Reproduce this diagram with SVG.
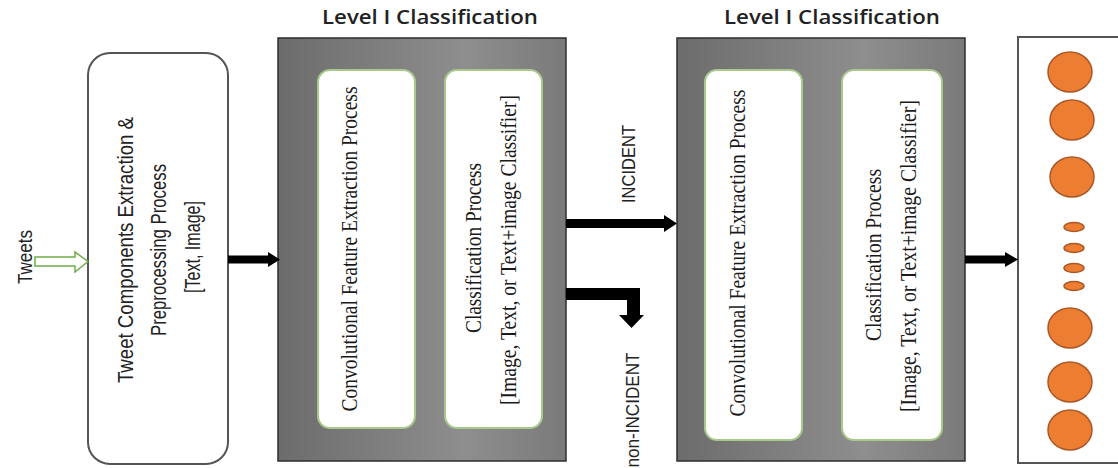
<svg xmlns="http://www.w3.org/2000/svg" width="1118" height="468" viewBox="0 0 1118 468">
<defs>
<linearGradient id="gray" x1="0" y1="0" x2="1" y2="0">
<stop offset="0" stop-color="#6c6c6c"/>
<stop offset="0.65" stop-color="#8e8e8e"/>
<stop offset="1" stop-color="#7a7a7a"/>
</linearGradient>
<style>
.outer{fill:url(#gray);stroke:#2e2e2e;stroke-width:1.5}
.inner{fill:#ffffff;stroke:#a7c98a;stroke-width:2}
.serif{font-family:"Liberation Serif","Times New Roman",serif;font-size:23px;fill:#1a1a1a;text-anchor:middle;dominant-baseline:central}
.sans{font-family:"Liberation Sans",Arial,sans-serif;fill:#222;text-anchor:middle;dominant-baseline:central}
.title{font-family:"Open Sans","Liberation Sans",sans-serif;font-size:19px;font-weight:600;fill:#222;text-anchor:middle}
.dot{fill:#ED7D31;stroke:#a9582a;stroke-width:1.5}
.conn{fill:#000}
</style>
</defs>
<rect width="1118" height="468" fill="#ffffff"/>

<g id="tweets">
<text class="sans" font-size="21" textLength="54" lengthAdjust="spacingAndGlyphs" transform="translate(24,257) rotate(-90)">Tweets</text>
</g>

<g id="preprocess">
<rect x="88" y="53" width="140" height="411" rx="22" fill="#ffffff" stroke="#555" stroke-width="2"/>
<text class="sans" font-size="22" textLength="266" lengthAdjust="spacingAndGlyphs" transform="translate(125,250) rotate(-90)">Tweet Components Extraction &amp;</text>
<text class="sans" font-size="22" textLength="172" lengthAdjust="spacingAndGlyphs" transform="translate(158,250) rotate(-90)">Preprocessing Process</text>
<text class="sans" font-size="22" textLength="92" lengthAdjust="spacingAndGlyphs" transform="translate(192,247) rotate(-90)">[Text, Image]</text>
</g>

<g id="level1a">
<text class="title" x="430" y="24" textLength="216" lengthAdjust="spacingAndGlyphs">Level I Classification</text>
<rect class="outer" x="278" y="38" width="288" height="423"/>
<rect class="inner" x="318" y="70" width="97" height="358" rx="12"/>
<rect class="inner" x="445" y="70" width="97" height="358" rx="12"/>
<text class="serif" textLength="325" lengthAdjust="spacingAndGlyphs" transform="translate(349,249) rotate(-90)">Convolutional Feature Extraction Process</text>
<text class="serif" textLength="170" lengthAdjust="spacingAndGlyphs" transform="translate(473,248) rotate(-90)">Classification Process</text>
<text class="serif" textLength="310" lengthAdjust="spacingAndGlyphs" transform="translate(508,250) rotate(-90)">[Image, Text, or Text+image Classifier]</text>
</g>

<g id="level1b">
<text class="title" x="832" y="24" textLength="216" lengthAdjust="spacingAndGlyphs">Level I Classification</text>
<rect class="outer" x="677" y="38" width="288" height="423"/>
<rect class="inner" x="705" y="70" width="97" height="370" rx="12"/>
<rect class="inner" x="842" y="70" width="100" height="370" rx="12"/>
<text class="serif" textLength="327" lengthAdjust="spacingAndGlyphs" transform="translate(737,253) rotate(-90)">Convolutional Feature Extraction Process</text>
<text class="serif" textLength="172" lengthAdjust="spacingAndGlyphs" transform="translate(873,255) rotate(-90)">Classification Process</text>
<text class="serif" textLength="312" lengthAdjust="spacingAndGlyphs" transform="translate(908,256) rotate(-90)">[Image, Text, or Text+image Classifier]</text>
</g>

<g id="output">
<rect x="1018" y="37" width="110" height="426" fill="#ffffff" stroke="#555" stroke-width="2"/>
<ellipse class="dot" cx="1070" cy="72" rx="22" ry="20"/>
<ellipse class="dot" cx="1072" cy="120" rx="22" ry="20"/>
<ellipse class="dot" cx="1072" cy="177" rx="22" ry="20"/>
<ellipse class="dot" cx="1074" cy="227" rx="10" ry="4.5"/>
<ellipse class="dot" cx="1074" cy="248" rx="10" ry="4.5"/>
<ellipse class="dot" cx="1074" cy="268" rx="10" ry="4.5"/>
<ellipse class="dot" cx="1074" cy="286" rx="10" ry="4.5"/>
<ellipse class="dot" cx="1070" cy="328" rx="22" ry="20"/>
<ellipse class="dot" cx="1070" cy="382" rx="22" ry="20"/>
<ellipse class="dot" cx="1070" cy="430" rx="22" ry="20"/>
</g>

<g id="connectors">
<path d="M35,257 L75,257 L75,252 L88,261.5 L75,272 L75,266 L35,266 Z" fill="#ffffff" stroke="#70ad47" stroke-width="1.5"/>
<path class="conn" d="M228,255.5 L268,255.5 L268,252 L280,259.5 L268,267 L268,263.5 L228,263.5 Z"/>
<path class="conn" d="M566,219 L664,219 L664,215 L677,223.5 L664,232 L664,228 L566,228 Z"/>
<text class="sans" font-size="19" textLength="78" lengthAdjust="spacingAndGlyphs" transform="translate(628,164) rotate(-90)">INCIDENT</text>
<path class="conn" d="M566,288 L640,288 L640,315 L644,315 L631.5,328 L619,315 L627,315 L627,300 L566,300 Z"/>
<text class="sans" font-size="19" textLength="115" lengthAdjust="spacingAndGlyphs" transform="translate(632,410) rotate(-90)">non-INCIDENT</text>
<path class="conn" d="M965,255.5 L1005,255.5 L1005,252 L1018,259.5 L1005,267 L1005,263.5 L965,263.5 Z"/>
</g>
</svg>
